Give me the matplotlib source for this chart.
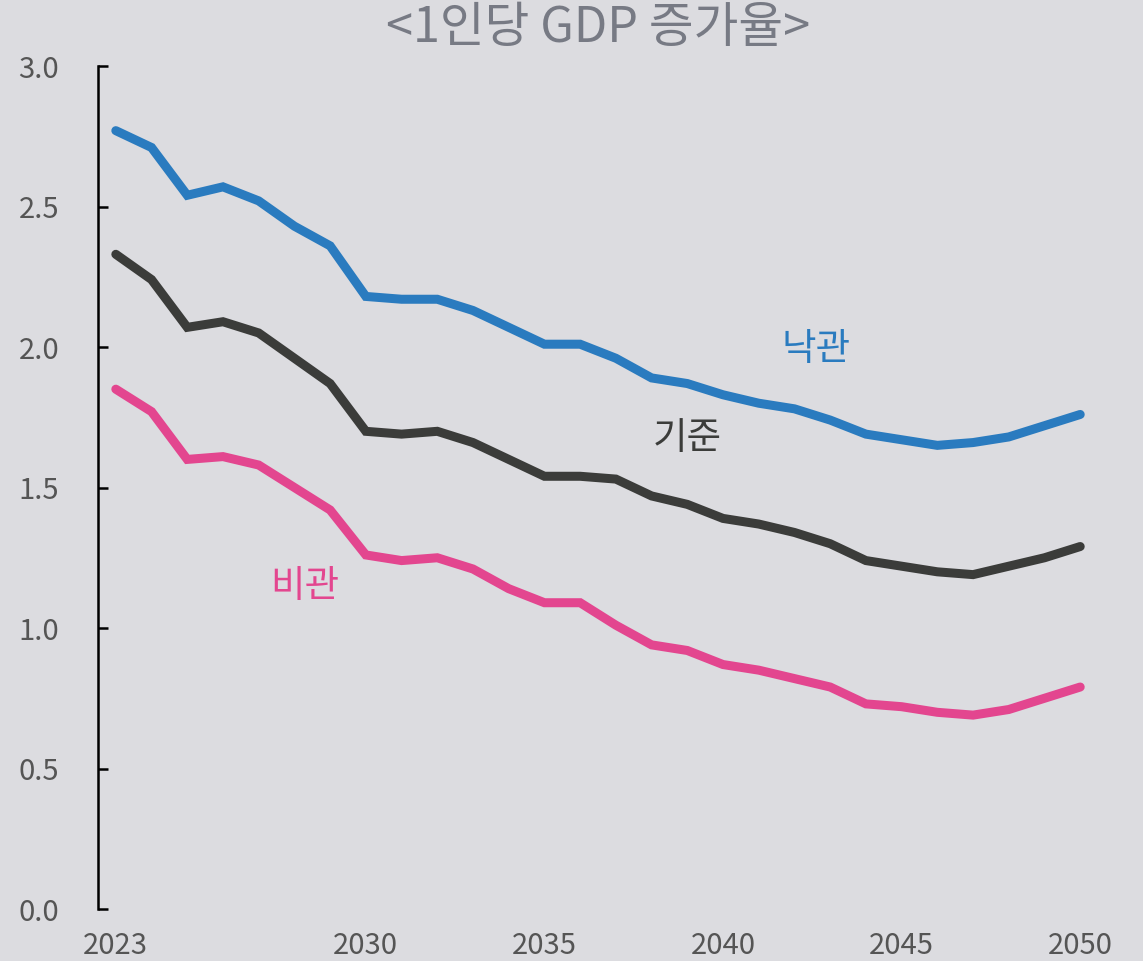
import matplotlib
matplotlib.use('Agg')
import matplotlib.pyplot as plt

years = list(range(2023, 2051))

optimistic = [2.77, 2.71, 2.54, 2.57, 2.52, 2.43, 2.36, 2.18, 2.17, 2.17,
              2.13, 2.07, 2.01, 2.01, 1.96, 1.89, 1.87, 1.83, 1.80, 1.78,
              1.74, 1.69, 1.67, 1.65, 1.66, 1.68, 1.72, 1.76]
baseline = [2.33, 2.24, 2.07, 2.09, 2.05, 1.96, 1.87, 1.70, 1.69, 1.70,
            1.66, 1.60, 1.54, 1.54, 1.53, 1.47, 1.44, 1.39, 1.37, 1.34,
            1.30, 1.24, 1.22, 1.20, 1.19, 1.22, 1.25, 1.29]
pessimistic = [1.85, 1.77, 1.60, 1.61, 1.58, 1.50, 1.42, 1.26, 1.24, 1.25,
               1.21, 1.14, 1.09, 1.09, 1.01, 0.94, 0.92, 0.87, 0.85, 0.82,
               0.79, 0.73, 0.72, 0.70, 0.69, 0.71, 0.75, 0.79]

x_ticks = [2023, 2030, 2035, 2040, 2045, 2050]
y_ticks = [0.0, 0.5, 1.0, 1.5, 2.0, 2.5, 3.0]

title = '<1인당 GDP 증가율>'
labels = ['낙관', '기준', '비관']
colors = ['#2a7bbf', '#3b3c3a', '#e3468f']

plt.rcParams['font.family'] = ['Noto Sans CJK KR', 'DejaVu Sans']

bg = '#dcdce0'
fig = plt.figure(figsize=(11.43, 9.61), dpi=100, facecolor=bg)
ax = fig.add_axes([0.0857, 0.0541, 0.875, 0.8772], facecolor=bg)

for series, c in zip([optimistic, baseline, pessimistic], colors):
    ax.plot(years, series, color=c, lw=6.5, solid_capstyle='round', solid_joinstyle='miter')

# inline labels
ax.text(2042.6, 1.99, labels[0], color=colors[0], fontsize=27, ha='center', va='center')
ax.text(2039.0, 1.676, labels[1], color=colors[1], fontsize=27, ha='center', va='center')
ax.text(2028.3, 1.146, labels[2], color=colors[2], fontsize=27, ha='center', va='center')

ax.set_xlim(2022.5, 2050.5)
ax.set_ylim(0, 3.0)
ax.set_xticks(x_ticks)
ax.set_yticks(y_ticks)
ax.set_yticklabels(['%.1f' % v for v in y_ticks])

for s in ['top', 'right', 'bottom']:
    ax.spines[s].set_visible(False)
ax.spines['left'].set_linewidth(1.8)
ax.spines['left'].set_color('black')

ax.tick_params(axis='y', direction='in', length=7, width=1.8, color='black',
               labelsize=21, labelcolor='#555555', pad=28)
ax.tick_params(axis='x', length=0, labelsize=21, labelcolor='#555555', pad=16)

fig.text(0.523, 0.971, title, ha='center', va='center', fontsize=35,
         color='#777a84', fontweight='medium')

plt.savefig('out.png', dpi=100, facecolor=bg)
